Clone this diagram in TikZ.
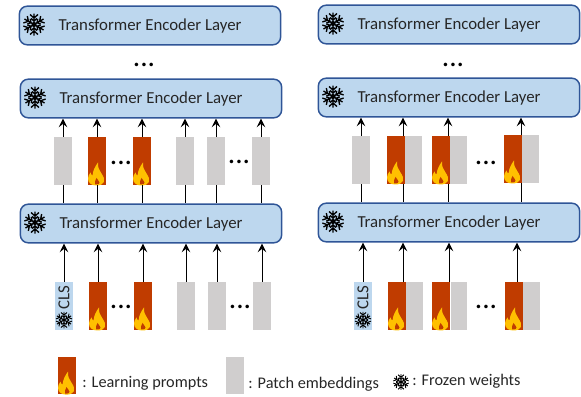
\documentclass[tikz,border=0pt]{standalone}
\usepackage{fontspec}
\setmainfont{Carlito}
\usetikzlibrary{arrows.meta}
\definecolor{layerblue}{HTML}{BDD7EE}
\definecolor{layerline}{HTML}{2F5597}
\definecolor{promptred}{HTML}{C03C00}
\definecolor{patchgray}{HTML}{D0CECE}
\definecolor{flameyellow}{HTML}{FFC000}
\newcommand{\icearm}[1]{\draw[rotate=#1] (0,0) -- (0,-11) (-4,-10) -- (0,-6.5) -- (4,-10) (-3,-6) -- (0,-3.5) -- (3,-6);}
\tikzset{
    layer/.style={draw=layerline, line width=1.1pt, fill=layerblue, rounded corners=6pt, minimum width=196pt, minimum height=29pt, inner sep=0pt, text depth=1pt, font=\fontsize{12.6}{12.6}\selectfont, text=black!85},
    patch/.style={fill=patchgray, minimum width=13.5pt, minimum height=36pt, inner sep=0pt},
    prompt/.style={patch, fill=promptred},
    halfpatch/.style={patch, minimum width=12.5pt},
    cls/.style={patch, fill=layerblue},
    more/.style={anchor=base, inner sep=0pt, font=\fontsize{22}{22}\selectfont},
    legend/.style={anchor=west, inner sep=0pt, font=\fontsize{12.2}{12.2}\selectfont, text=black!85},
    clstext/.style={rotate=90, inner sep=0pt, font=\fontsize{12.6}{12.6}\selectfont, text=black!85},
    icebig/.style={line width=1pt},
    frozen/.pic={
        \icearm{0} \icearm{60} \icearm{120} \icearm{180} \icearm{240} \icearm{300}
        \fill (0,0) circle (2.5);
    },
    flame/.pic={
        \fill[flameyellow] (-1,0) .. controls (-6,0) and (-9,-3) .. (-9,-7) .. controls (-9,-9) and (-8,-11) .. (-6.5,-13) .. controls (-6.3,-11.5) and (-5.5,-10.5) .. (-4.5,-10) .. controls (-4,-15) and (-2,-19) .. (1,-23) .. controls (0.5,-18) and (2.5,-15) .. (4.5,-12) .. controls (6.5,-9) and (8,-6) .. (7,-3.5) .. controls (6,-1) and (3,0) .. (-1,0) -- cycle;
        \fill[promptred] (-2,-1) .. controls (-3,-3) and (-1.5,-5) .. (-0.5,-7.5) .. controls (0,-6) and (2.5,-4.5) .. (2.5,-3) .. controls (2.5,-2) and (1.5,-1) .. (0,-1) -- cycle;
    }
}
\begin{document}
\begin{tikzpicture}[x=0.75pt, y=-0.75pt, >={Stealth[length=6.5pt, width=6.5pt, inset=2.5pt]}, line width=0.7pt]
    \useasboundingbox (0,0) rectangle (581,396);

    % left stack
    \node[layer] at (150,25.5) (layerA) {Transformer Encoder Layer};
    \node[layer] at (151,98.5) (layerB) {Transformer Encoder Layer};
    \node[layer] at (151,223.5) (layerC) {Transformer Encoder Layer};
    \pic[icebig] at (34,24.5) {frozen};
    \pic[icebig] at (35,97.5) {frozen};
    \pic[icebig] at (35,222.5) {frozen};
    \node[more] at (144,66) (moreA) {...};

    \node[patch] at (63,161) (upA) {};
    \node[prompt] at (97,161) (upB) {};
    \node[prompt] at (142,161) (upC) {};
    \node[patch] at (185,161) (upD) {};
    \node[patch] at (216,161) (upE) {};
    \node[patch] at (261,161) (upF) {};
    \pic at (upB.south) {flame};
    \pic at (upC.south) {flame};
    \node[more] at (121,164) (moreB) {...};
    \node[more] at (239,163) (moreC) {...};

    \draw[->] (upA.north) -- (upA.north|-layerB.south);
    \draw[->] (upB.north) -- (upB.north|-layerB.south);
    \draw[->] (upC.north) -- (upC.north|-layerB.south);
    \draw[->] (upD.north) -- (upD.north|-layerB.south);
    \draw[->] (upE.north) -- (upE.north|-layerB.south);
    \draw[->] (upF.north) -- (upF.north|-layerB.south);
    \draw[-] (upA.south) -- (upA.south|-layerC.north);
    \draw[-] (upB.south) -- (upB.south|-layerC.north);
    \draw[-] (upC.south) -- (upC.south|-layerC.north);
    \draw[-] (upD.south) -- (upD.south|-layerC.north);
    \draw[-] (upE.south) -- (upE.south|-layerC.north);
    \draw[-] (upF.south) -- (upF.south|-layerC.north);

    \node[cls] at (64,306) (lowA) {};
    \node[prompt] at (98,306) (lowB) {};
    \node[prompt] at (143,306) (lowC) {};
    \node[patch] at (186,306) (lowD) {};
    \node[patch] at (217,306) (lowE) {};
    \node[patch] at (262,306) (lowF) {};
    \node[clstext] at (64,298) (clsA) {CLS};
    \pic[scale=0.75] at (64,320) {frozen};
    \pic at (lowB.south) {flame};
    \pic at (lowC.south) {flame};
    \node[more] at (121,308) (moreD) {...};
    \node[more] at (240,308) (moreE) {...};

    \draw[->] (lowA.north) -- (lowA.north|-layerC.south);
    \draw[->] (lowB.north) -- (lowB.north|-layerC.south);
    \draw[->] (lowC.north) -- (lowC.north|-layerC.south);
    \draw[->] (lowD.north) -- (lowD.north|-layerC.south);
    \draw[->] (lowE.north) -- (lowE.north|-layerC.south);
    \draw[->] (lowF.north) -- (lowF.north|-layerC.south);

    % right stack
    \node[layer] at (449,24.5) (layerD) {Transformer Encoder Layer};
    \node[layer] at (449,97.5) (layerE) {Transformer Encoder Layer};
    \node[layer] at (449,222.5) (layerF) {Transformer Encoder Layer};
    \pic[icebig] at (333,23.5) {frozen};
    \pic[icebig] at (333,96.5) {frozen};
    \pic[icebig] at (333,221.5) {frozen};
    \node[more] at (453,66) (moreF) {...};

    \node[patch] at (361,160) (rupA) {};
    \node[prompt] at (396,160) (rupB) {};
    \node[halfpatch] at (413.3,160) (rupBb) {};
    \node[prompt] at (441,160) (rupC) {};
    \node[halfpatch] at (458.3,160) (rupCb) {};
    \node[prompt] at (513,159) (rupD) {};
    \node[halfpatch] at (530.3,159) (rupDb) {};
    \pic at (rupB.south) {flame};
    \pic at (rupC.south) {flame};
    \pic at (rupD.south) {flame};
    \node[more] at (486,164) (moreG) {...};

    \draw[->] (rupA.north) -- (rupA.north|-layerE.south);
    \draw[->] ([xshift=5.25pt]rupB.north) -- ([xshift=5.25pt]rupB.north|-layerE.south);
    \draw[->] ([xshift=5.25pt]rupC.north) -- ([xshift=5.25pt]rupC.north|-layerE.south);
    \draw[->] ([xshift=6pt]rupD.north) -- ([xshift=6pt]rupD.north|-layerE.south);
    \draw[-] (rupA.south) -- (rupA.south|-layerF.north);
    \draw[-] ([xshift=5.25pt]rupB.south) -- ([xshift=5.25pt]rupB.south|-layerF.north);
    \draw[-] ([xshift=5.25pt]rupC.south) -- ([xshift=5.25pt]rupC.south|-layerF.north);
    \draw[-] ([xshift=6pt]rupD.south) -- ([xshift=6pt]rupD.south|-layerF.north);

    \node[cls] at (363,306) (rlowA) {};
    \node[prompt] at (397,306) (rlowB) {};
    \node[halfpatch] at (414.3,306) (rlowBb) {};
    \node[prompt] at (441,306) (rlowC) {};
    \node[halfpatch] at (459,306) (rlowCb) {};
    \node[prompt] at (514,306) (rlowD) {};
    \node[halfpatch] at (531.3,306) (rlowDb) {};
    \node[clstext] at (363,298) (clsB) {CLS};
    \pic[scale=0.75] at (363,320) {frozen};
    \pic at (rlowB.south) {flame};
    \pic at (rlowC.south) {flame};
    \pic at (rlowD.south) {flame};
    \node[more] at (486,308) (moreH) {...};

    \draw[->] (rlowA.north) -- (rlowA.north|-layerF.south);
    \draw[->] ([xshift=4.5pt]rlowB.north) -- ([xshift=4.5pt]rlowB.north|-layerF.south);
    \draw[->] ([xshift=6pt]rlowC.north) -- ([xshift=6pt]rlowC.north|-layerF.south);
    \draw[->] ([xshift=2.25pt]rlowD.north) -- ([xshift=2.25pt]rlowD.north|-layerF.south);

    % legend
    \node[prompt, minimum height=28pt] at (67,375.5) (keyA) {};
    \pic at (keyA.south) {flame};
    \node[legend] at (82,383) (textA) {: Learning prompts};
    \node[patch, minimum height=28pt] at (235,375.5) (keyB) {};
    \node[legend] at (248,384) (textB) {: Patch embeddings};
    \pic[scale=0.72] at (401,382) {frozen};
    \node[legend] at (412,381) (textC) {: Frozen weights};
\end{tikzpicture}
\end{document}
